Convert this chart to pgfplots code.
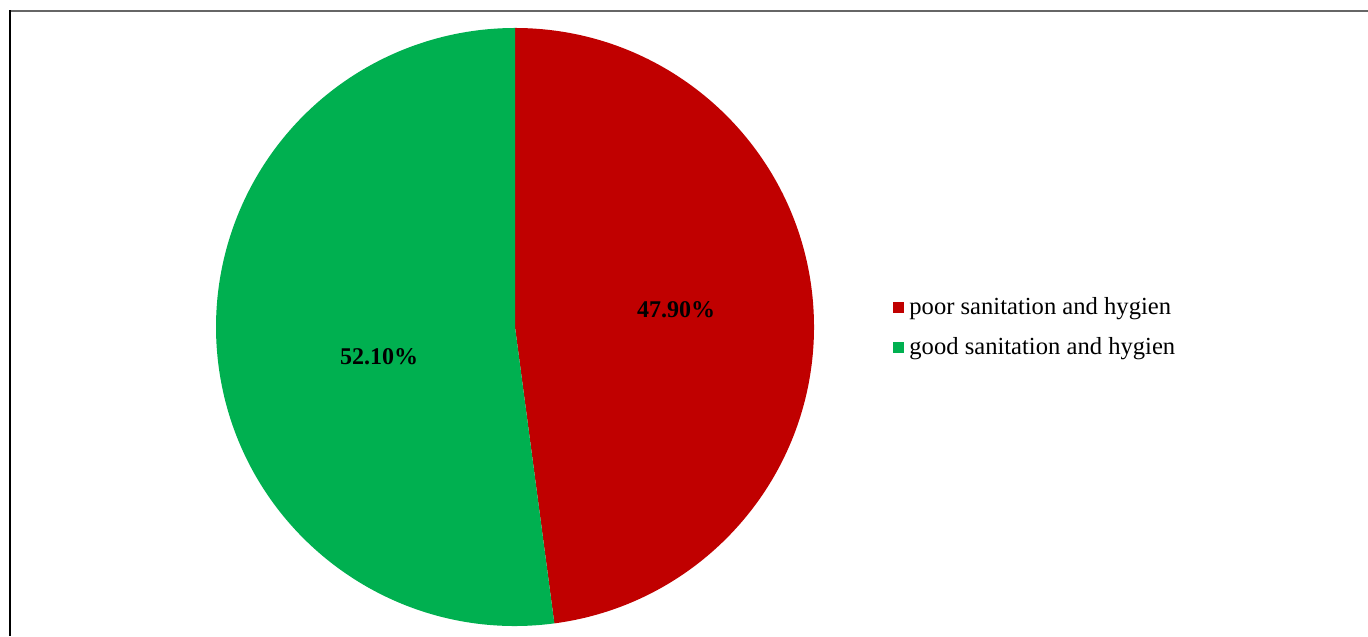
\documentclass[border=0pt]{standalone}
\usepackage{pgfplots}
\pgfplotsset{compat=1.18}
\usepackage{fontspec}
\setmainfont{Liberation Serif}
\definecolor{poorred}{HTML}{C00000}
\definecolor{goodgreen}{HTML}{00B050}
\definecolor{framegray}{HTML}{666666}
\begin{document}
\begin{tikzpicture}
\begin{axis}[
  scale only axis, width=684pt, height=318pt,
  xmin=0, xmax=1368, ymin=0, ymax=636,
  hide axis, clip=false,
]
\path[use as bounding box] (axis cs:0,0) rectangle (axis cs:1368,636);
% values (percent)
\pgfmathsetmacro\poor{47.9}
\pgfmathsetmacro\good{52.1}
\pgfmathsetmacro\angA{90}
\pgfmathsetmacro\angB{90-3.6*\poor}
\pgfmathsetmacro\angC{\angB-3.6*\good}
\fill[poorred] (axis cs:515,309) -- ++(\angA:149.5pt) arc[start angle=\angA, end angle=\angB, radius=149.5pt] -- cycle;
\fill[goodgreen] (axis cs:515,309) -- ++(\angB:149.5pt) arc[start angle=\angB, end angle=\angC, radius=149.5pt] -- cycle;
\node[font=\bfseries\fontsize{12}{14}\selectfont] at (axis cs:676,326) {47.90\%};
\node[font=\bfseries\fontsize{12}{14}\selectfont] at (axis cs:379,279) {52.10\%};
% legend
\fill[poorred] (axis cs:892.5,322.5) rectangle (axis cs:903.5,333.5);
\fill[goodgreen] (axis cs:892.5,282.5) rectangle (axis cs:903.5,293.5);
\node[anchor=west, inner sep=0pt, font=\fontsize{12.3}{14}\selectfont] at (axis cs:909,327) {poor sanitation and hygien};
\node[anchor=west, inner sep=0pt, font=\fontsize{12.3}{14}\selectfont] at (axis cs:909,287) {good sanitation and hygien};
% frame
\draw[framegray, line width=1pt] (axis cs:10,625) -- (axis cs:1368,625);
\draw[black, line width=1pt] (axis cs:10,625.5) -- (axis cs:10,0);
\end{axis}
\end{tikzpicture}
\end{document}
